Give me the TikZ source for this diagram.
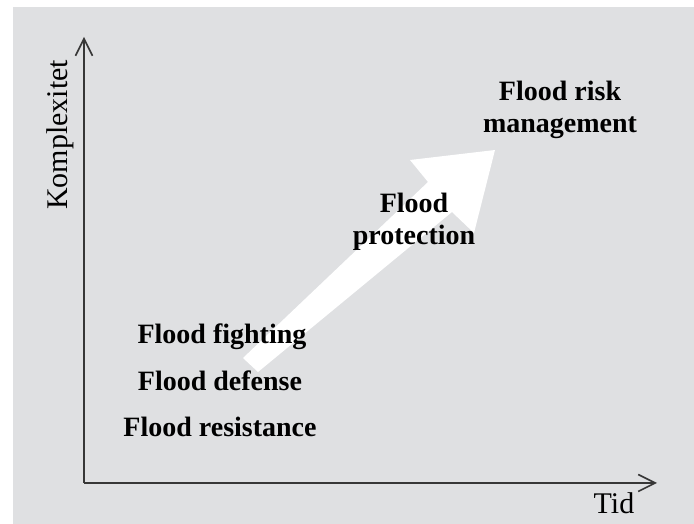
\documentclass[tikz,border=0pt]{standalone}
\usepackage{fontspec}
\setmainfont{Liberation Serif}
\usepackage{tikz}
\usetikzlibrary{arrows.meta}

\definecolor{panelgray}{RGB}{223,224,226}
\definecolor{axisgray}{RGB}{55,55,55}

\begin{document}
\begin{tikzpicture}
[x=1pt,y=1pt]
\tikzset{
	stage/.style = {font = \fontsize{28}{32}\selectfont\bfseries, align = center, inner sep = 0},
	axislabel/.style = {font = \fontsize{30}{32}\selectfont, inner sep = 0},
	axis/.style = {draw = axisgray, line width = 1.6pt, -{Straight Barb[length=17pt,width=17pt,line width=1.6pt]}}
}

\useasboundingbox (0,0) rectangle (694,524);
\fill[white] (0,0) rectangle (694,524);
\fill[panelgray] (13,0) rectangle (694,517);

% the big white arrow
\fill[white] (243,166) -- (428,342) -- (410,364) -- (495,374)
	-- (474,291) -- (452,312) -- (258,152) -- cycle;

\node(risk) [stage] at (560,414) {Flood risk\\management};
\node(protection) [stage] at (414,302) {Flood\\protection};
\node(fighting) [stage, anchor = base] at (222,180) {Flood fighting};
\node(defense) [stage, anchor = base] at (220,133) {Flood defense};
\node(resistance) [stage, anchor = base] at (220,87) {Flood resistance};

\coordinate(origin) at (84,41);
\coordinate(ytop) at (84,487);
\coordinate(xend) at (657,41);

\draw[axis] (origin) -- (ytop);
\draw[axis] (origin) -- (xend);

\node(komplexitet) [axislabel, rotate = 90] at (60,389) {Komplexitet};
\node(tid) [axislabel, anchor = base] at (614,10) {Tid};

\end{tikzpicture}
\end{document}
